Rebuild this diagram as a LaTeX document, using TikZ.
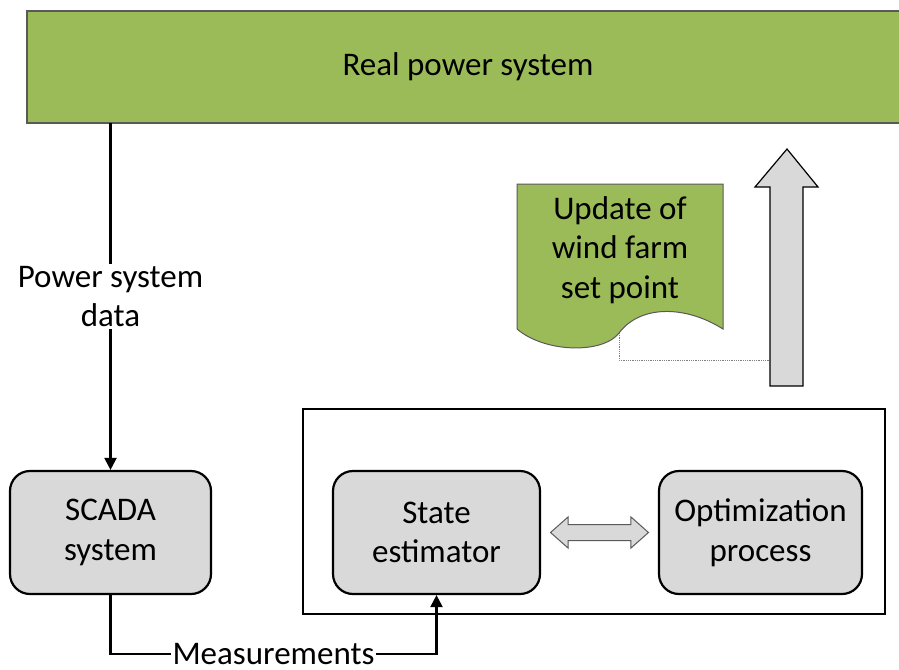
\documentclass[tikz,border=0pt]{standalone}
\usepackage{fontspec}
\setmainfont{Carlito}
\usetikzlibrary{arrows.meta}
\usetikzlibrary{calc}
\usetikzlibrary{shapes.arrows}
\definecolor{leafgreen}{HTML}{9BBB59}
\definecolor{boxgray}{HTML}{D9D9D9}
\definecolor{rimgray}{HTML}{595959}

\begin{document}
\begin{tikzpicture}[x=1pt,y=-1pt,
  font=\fontsize{33}{39.5}\selectfont,
  block/.style={draw=black, line width=2.2pt, fill=boxgray, rounded corners=20pt, align=center, minimum height=123pt},
  conn/.style={line width=2.2pt, -{Triangle[length=12pt,width=12pt]}},
  lbl/.style={fill=white, align=center, inner sep=2pt}]
\pgfmathsetmacro{\boxmid}{532.5}
\useasboundingbox (0,0) rectangle (899,669);

\node[fill=leafgreen, minimum width=960pt, minimum height=112pt, anchor=west] (realsys) at (27,67) {};
\draw[rimgray, line width=1.5pt] (realsys.north east) -- (realsys.north west) -- (realsys.south west) -- (realsys.south east);
\node (realtext) at (468,67) {Real power system};

\node[draw=black, line width=2.2pt, minimum width=582pt, minimum height=205pt] (engine) at (594,511.5) {};

\node[block, minimum width=201pt] (scada) at (110.5,\boxmid) {SCADA\\system};
\node[block, minimum width=207pt] (state) at (436.5,\boxmid) {State\\estimator};
\node[block, minimum width=203pt] (optim) at (760.5,\boxmid) {Optimization\\process};

\node[double arrow, draw=rimgray, line width=1pt, fill=boxgray, minimum height=98pt, minimum width=30pt, inner xsep=0pt, inner ysep=7.5pt, double arrow head extend=7.5pt, double arrow tip angle=83] (swap) at ($(state.east)!0.5!(optim.west)$) {};

% set point sheet
\draw[draw=rimgray, line width=1pt, fill=leafgreen] (517,184) -- (723,184) -- (723,329) .. controls (685,305) and (640,305) .. (619,333) coordinate (docfoot) .. controls (603,354) and (545,353) .. (517,329) -- cycle;
\node[align=center] (setpoint) at (620,250) {Update of\\wind farm\\set point};

% upward arrow
\draw[draw=black, line width=1.2pt, fill=boxgray] (770,386) -- (770,187) -- (755,187) -- (787,149) -- (818,187) -- (803,187) -- (803,386) -- cycle;
\coordinate (shaft) at (770,360);
\draw[densely dotted, gray, line width=0.8pt] (docfoot) |- (shaft);

\draw[conn] (scada |- realsys.south) -- node[lbl]{Power system\\data} (scada.north);
\draw[conn] (scada.south) -- ++(0,59) -| node[pos=0.25, lbl, inner ysep=1pt]{Measurements} (state.south);

\end{tikzpicture}
\end{document}
